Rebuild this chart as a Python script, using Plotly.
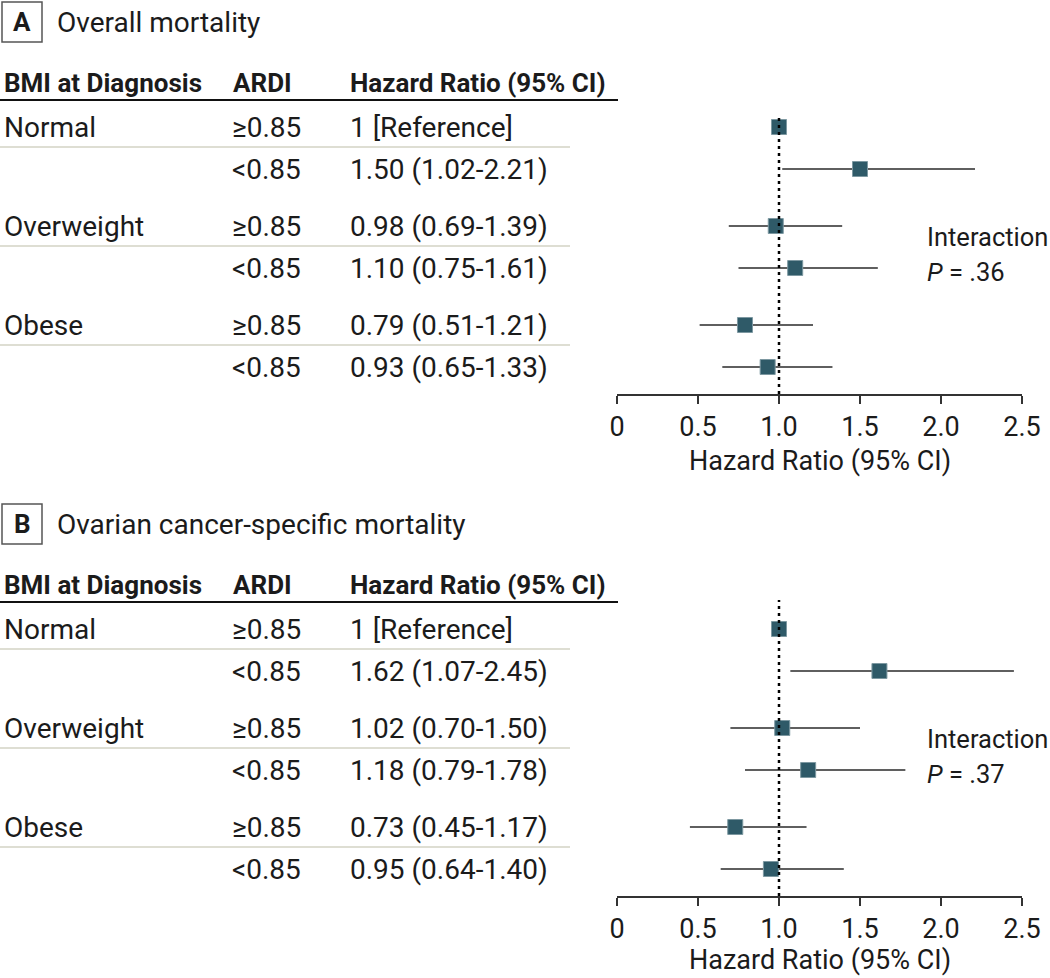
import plotly.graph_objects as go

W, H = 1050, 978

# ---------------- data ----------------
groups = ["Normal", "Overweight", "Obese"]
ardi_levels = ["≥0.85", "<0.85"]

hr_a = [1.00, 1.50, 0.98, 1.10, 0.79, 0.93]
lo_a = [1.00, 1.02, 0.69, 0.75, 0.51, 0.65]
hi_a = [1.00, 2.21, 1.39, 1.61, 1.21, 1.33]
p_a = ".36"

hr_b = [1.00, 1.62, 1.02, 1.18, 0.73, 0.95]
lo_b = [1.00, 1.07, 0.70, 0.79, 0.45, 0.64]
hi_b = [1.00, 2.45, 1.50, 1.78, 1.17, 1.40]
p_b = ".37"

x_tickvals = [0, 0.5, 1.0, 1.5, 2.0, 2.5]
x_ticktext = ["0", "0.5", "1.0", "1.5", "2.0", "2.5"]

panel_letters = ["A", "B"]
panel_titles = ["Overall mortality", "Ovarian cancer-specific mortality"]
headers = ["BMI at Diagnosis", "ARDI", "Hazard Ratio (95% CI)"]

# ---------------- styling / layout ----------------
FONT = "Roboto, 'Noto Sans', sans-serif"
TXT = "#1b1b1b"
MARK = "#2f5a68"
MARK_EDGE = "#7d98a1"
ERR = "#2a2a2a"
SEP = "#d3d3c4"

ROW_PITCH, GROUP_PITCH = 42, 99
row_pos = [g * GROUP_PITCH + k * ROW_PITCH for g in range(len(groups)) for k in range(len(ardi_levels))]

X_LEFT, X_RIGHT = 617, 1022
COL_X = [2, 230, 348]

panels = [
    dict(hr=hr_a, lo=lo_a, hi=hi_a, p=p_a, row0=127, top=-13, xa="x", ya="y"),
    dict(hr=hr_b, lo=lo_b, hi=hi_b, p=p_b, row0=629, top=-29, xa="x2", ya="y2"),
]
AXIS_OFF = 267


def py(px):
    return 1 - px / H


def pxx(px):
    return px / W


fig = go.Figure()
shapes = []
annotations = []
layout_axes = {}

for i, pn in enumerate(panels):
    r0 = pn["row0"]
    hr, lo, hi = pn["hr"], pn["lo"], pn["hi"]
    fig.add_trace(go.Scatter(
        x=hr, y=row_pos, xaxis=pn["xa"], yaxis=pn["ya"], mode="markers",
        marker=dict(symbol="square", size=15, color=MARK, line=dict(color=MARK_EDGE, width=1)),
        error_x=dict(type="data", symmetric=False,
                     array=[h - r for h, r in zip(hi, hr)],
                     arrayminus=[r - l for r, l in zip(hr, lo)],
                     width=0, thickness=1.5, color=ERR),
        showlegend=False, hoverinfo="skip",
    ))

    top_px = r0 + pn["top"]
    bot_px = r0 + AXIS_OFF
    suffix = "" if i == 0 else "2"
    layout_axes["xaxis" + suffix] = dict(
        domain=[pxx(X_LEFT), pxx(X_RIGHT)], range=[0, 2.5], anchor=pn["ya"],
        showgrid=False, zeroline=False, showline=True, linecolor="#333", linewidth=1.5,
        ticks="outside", ticklen=8, tickwidth=1.5, tickcolor="#333",
        tickvals=x_tickvals, ticktext=x_ticktext, automargin=False,
        tickfont=dict(family=FONT, size=27, color=TXT), fixedrange=True,
    )
    layout_axes["yaxis" + suffix] = dict(
        domain=[py(bot_px), py(top_px)], range=[AXIS_OFF, pn["top"]], anchor=pn["xa"],
        visible=False, fixedrange=True, automargin=False,
    )

    # reference dotted line at HR = 1
    shapes.append(dict(type="line", xref=pn["xa"], yref=pn["ya"] + " domain",
                       x0=1, x1=1, y0=0, y1=1,
                       line=dict(color="black", width=2.5, dash="3px,4px")))

    # panel letter box and title
    title_px = r0 - 105
    shapes.append(dict(type="rect", xref="paper", yref="paper",
                       x0=pxx(2), x1=pxx(42), y0=py(title_px - 20), y1=py(title_px + 20),
                       line=dict(color="#555", width=1.5)))
    annotations.append(dict(text="<b>" + panel_letters[i] + "</b>", xref="paper", yref="paper",
                            x=pxx(22), y=py(title_px), xanchor="center", yanchor="middle",
                            showarrow=False, font=dict(family=FONT, size=26, color=TXT)))
    annotations.append(dict(text=panel_titles[i], xref="paper", yref="paper",
                            x=pxx(55), y=py(title_px), xanchor="left", yanchor="middle",
                            showarrow=False, font=dict(family=FONT, size=28, color=TXT)))

    # headers
    for cx, htxt in zip([COL_X[0], 231, COL_X[2]], headers):
        annotations.append(dict(text="<b>" + htxt + "</b>", xref="paper", yref="paper",
                                x=pxx(cx), y=py(r0 - 44), xanchor="left", yanchor="middle",
                                showarrow=False, font=dict(family=FONT, size=26, color=TXT)))
    shapes.append(dict(type="line", xref="paper", yref="paper",
                       x0=0, x1=pxx(618), y0=py(r0 - 27), y1=py(r0 - 27),
                       line=dict(color="#111", width=2)))

    # table rows
    for j, yv in enumerate(row_pos):
        g, k = divmod(j, len(ardi_levels))
        if k == 0:
            annotations.append(dict(text=groups[g], xref="paper", yref=pn["ya"],
                                    x=pxx(COL_X[0]), y=yv, xanchor="left", yanchor="middle",
                                    showarrow=False, font=dict(family=FONT, size=28, color=TXT)))
            shapes.append(dict(type="line", xref="paper", yref="paper",
                               x0=0, x1=pxx(570), y0=py(r0 + yv + 20), y1=py(r0 + yv + 20),
                               line=dict(color=SEP, width=1.5)))
        annotations.append(dict(text=ardi_levels[k], xref="paper", yref=pn["ya"],
                                x=pxx(COL_X[1]), y=yv, xanchor="left", yanchor="middle",
                                showarrow=False, font=dict(family=FONT, size=28, color=TXT)))
        hrtxt = "1 [Reference]" if j == 0 else f"{hr[j]:.2f} ({lo[j]:.2f}-{hi[j]:.2f})"
        annotations.append(dict(text=hrtxt, xref="paper", yref=pn["ya"],
                                x=pxx(COL_X[2]), y=yv, xanchor="left", yanchor="middle",
                                showarrow=False, font=dict(family=FONT, size=28, color=TXT)))

    # interaction p-value
    annotations.append(dict(text="Interaction", xref="paper", yref="paper",
                            x=pxx(925), y=py(r0 + 110), xanchor="left", yanchor="middle",
                            showarrow=False, font=dict(family=FONT, size=25.5, color=TXT)))
    annotations.append(dict(text="<i>P</i> = " + pn["p"], xref="paper", yref="paper",
                            x=pxx(925), y=py(r0 + 145), xanchor="left", yanchor="middle",
                            showarrow=False, font=dict(family=FONT, size=25.5, color=TXT)))

    # x-axis title
    annotations.append(dict(text="Hazard Ratio (95% CI)", xref="paper", yref="paper",
                            x=pxx((X_LEFT + X_RIGHT) / 2), y=py(min(r0 + 334, H - 18)),
                            xanchor="center", yanchor="middle",
                            showarrow=False, font=dict(family=FONT, size=27, color=TXT)))

fig.update_layout(
    template="none",
    width=W, height=H, autosize=False,
    margin=dict(l=0, r=0, t=0, b=0, pad=0, autoexpand=False),
    paper_bgcolor="white", plot_bgcolor="white",
    shapes=shapes, annotations=annotations, showlegend=False,
    font=dict(family=FONT, color=TXT),
    **layout_axes,
)

fig.write_html(
    "out.html",
    config={"displayModeBar": False, "responsive": False},
    post_script="document.body.style.margin='0';document.body.style.overflow='hidden';",
)
